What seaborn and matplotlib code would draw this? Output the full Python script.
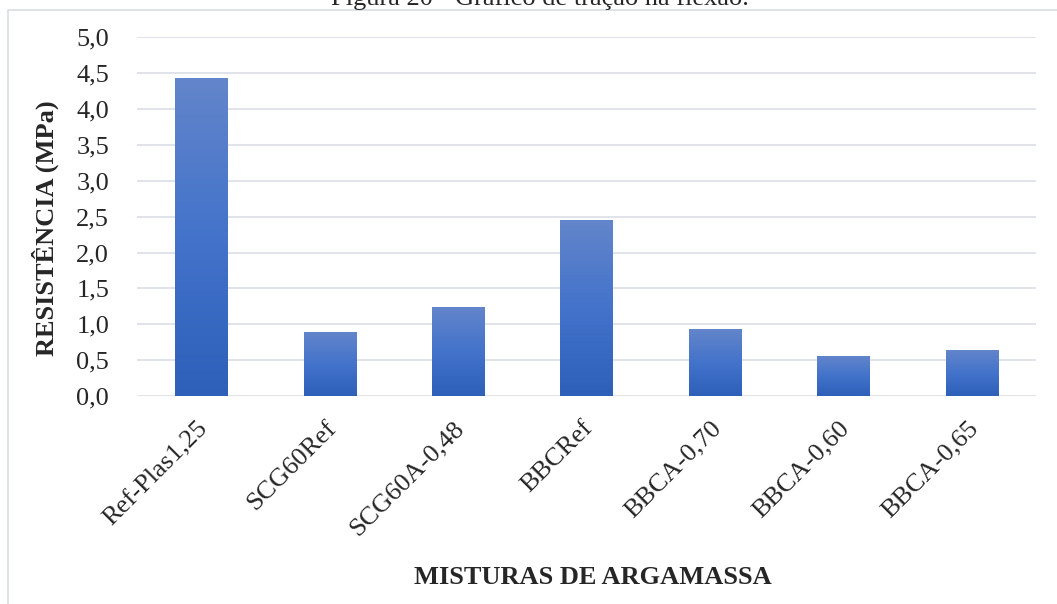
import numpy as np
import pandas as pd
import matplotlib
matplotlib.use("Agg")
import matplotlib.pyplot as plt
import matplotlib.transforms as mtransforms
import seaborn as sns
from matplotlib.colors import LinearSegmentedColormap
from matplotlib.patches import Rectangle

categories = ["Ref-Plas1,25", "SCG60Ref", "SCG60A-0,48", "BBCRef",
              "BBCA-0,70", "BBCA-0,60", "BBCA-0,65"]
values = [4.43, 0.89, 1.24, 2.45, 0.93, 0.56, 0.64]
yticks = [0.0, 0.5, 1.0, 1.5, 2.0, 2.5, 3.0, 3.5, 4.0, 4.5, 5.0]
ytick_labels = ["0,0", "0,5", "1,0", "1,5", "2,0", "2,5", "3,0", "3,5", "4,0", "4,5", "5,0"]
title = "Figura 20 - Gráfico de tração na flexão."
xlabel = "MISTURAS DE ARGAMASSA"
ylabel = "RESISTÊNCIA (MPa)"

sns.set_theme(style="white")
plt.rcParams["font.family"] = ["Liberation Serif", "DejaVu Serif"]

W, H = 1057, 604
fig = plt.figure(figsize=(W / 100, H / 100), dpi=100)
ax = fig.add_axes([137 / W, 1 - 396 / H, (1036 - 137) / W, (396 - 37.3) / H])

df = pd.DataFrame({"mix": categories, "val": values})
sns.barplot(data=df, x="mix", y="val", ax=ax, width=0.405, color="#4472C4",
            saturation=1, zorder=3)

ax.set_ylim(0, 5)
ax.set_xlim(-0.5, len(categories) - 0.5)
ax.set_yticks(yticks)
ax.set_yticklabels(ytick_labels, fontsize=19)
ax.tick_params(axis="y", length=0, pad=20)
ax.tick_params(axis="x", length=0)
ax.set_xticks(range(len(categories)))
ax.set_xticklabels(categories, rotation=45, ha="right", rotation_mode="anchor",
                   fontsize=19)
shift = mtransforms.ScaledTranslation(-5 / 100, -2 / 100, fig.dpi_scale_trans)
for lbl in ax.get_xticklabels():
    lbl.set_y(-0.04)
    lbl.set_transform(lbl.get_transform() + shift)
ax.set_xlabel("")
ax.set_ylabel("")
for s in ax.spines.values():
    s.set_visible(False)
ax.yaxis.grid(True, color="#E0E4EA", linewidth=1.4, zorder=0)
ax.set_axisbelow(True)

# gradient fill for bars
cmap = LinearSegmentedColormap.from_list("g", ["#2E60B9", "#4373CB", "#6385CA"])
grad = np.linspace(0, 1, 256).reshape(-1, 1)
for p in list(ax.patches):
    x0, y0 = p.get_x(), p.get_y()
    w, h = p.get_width(), p.get_height()
    p.set_facecolor("none")
    p.set_edgecolor("none")
    im = ax.imshow(grad, cmap=cmap, origin="lower", aspect="auto",
                   extent=[x0, x0 + w, y0, y0 + h], zorder=3)
    im.set_clip_path(p)
ax.set_xlim(-0.5, len(categories) - 0.5)
ax.set_ylim(0, 5)

fig.text(593 / W, 1 - 577 / H, xlabel, ha="center", va="center",
         fontsize=19, fontweight="bold")
fig.text(45 / W, 1 - 228 / H, ylabel, ha="center", va="center",
         rotation=90, fontsize=19, fontweight="bold")
fig.text(540 / W, 1 - 5 / H, title, ha="center", va="baseline", fontsize=19)

fig.patches.append(Rectangle((8 / W, -0.05), 1.2, 1 - 10 / H + 0.05,
                             transform=fig.transFigure, fill=False,
                             edgecolor="#D9DDE3", linewidth=1.2, zorder=-1))

fig.savefig("out.png", dpi=100)
